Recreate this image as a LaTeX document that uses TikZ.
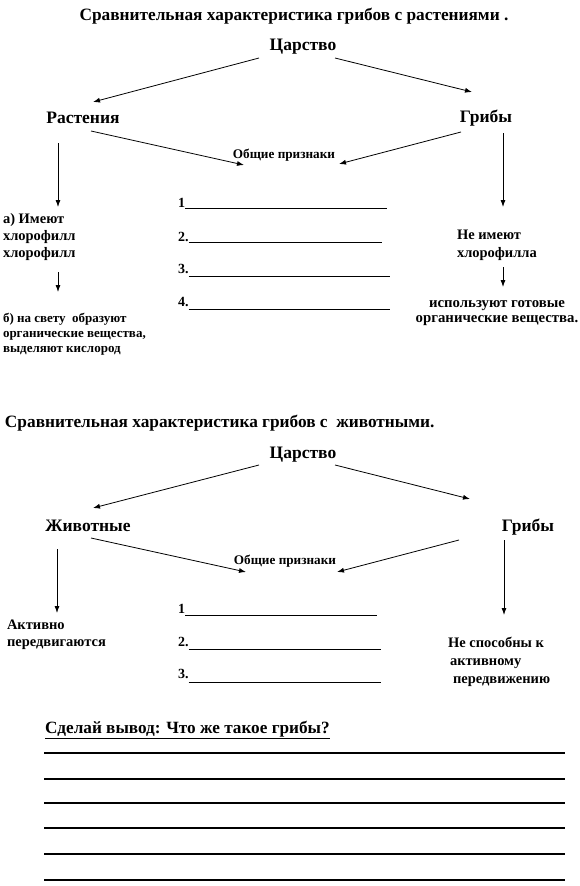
\documentclass[tikz,border=0pt]{standalone}
\usepackage{fontspec}
\setmainfont{Liberation Serif}
\usetikzlibrary{arrows.meta,calc}
\begin{document}
\begin{tikzpicture}[x=1pt,y=-1pt,
  every node/.style={inner sep=0pt, outer sep=0pt},
  ttl/.style={font=\bfseries\fontsize{17.3}{20}\selectfont, anchor=base},
  hd/.style={font=\bfseries\fontsize{17.5}{20}\selectfont},
  com/.style={font=\bfseries\fontsize{13.2}{15}\selectfont},
  txt/.style={font=\bfseries\fontsize{14.5}{17}\selectfont, align=left, anchor=base west},
  num/.style={font=\bfseries\fontsize{14}{16}\selectfont, anchor=base west},
  arr/.style={draw, line width=0.8pt, -{Latex[length=7pt,width=5pt]}},
  blank/.style={line width=0.9pt},
  rulel/.style={line width=1.3pt}
]
\useasboundingbox (0,0) rectangle (580,886);

% ---------- Section 1 ----------
\node[ttl] (t1) at (294,20) {Сравнительная характеристика грибов с растениями .};
\node[hd] (tsar1) at (303,47) {Царство};
\node[hd] (rast) at (83,118) {Растения};
\node[hd] (grib1) at (486,118) {Грибы};
\node[com] (obsh1) at (284,155) {Общие признаки};
\node[txt] (a1) at (3,257) {а) Имеют\\хлорофилл\\хлорофилл};
\node[txt, font=\bfseries\fontsize{13}{15}\selectfont] (b1) at (3,352) {б) на свету\ \ образуют\\органические вещества,\\выделяют кислород};
\node[txt, font=\bfseries\fontsize{14.5}{18}\selectfont] (ne1) at (457,257) {Не имеют\\хлорофилла};
\node[txt, font=\bfseries\fontsize{14.8}{15}\selectfont, align=center, anchor=base] (isp) at (497,322) {используют готовые\\органические вещества.};

\node[num] (n11) at (178,207) {1};
\node[num] (n12) at (178,241) {2.};
\node[num] (n13) at (178,273) {3.};
\node[num] (n14) at (178,306) {4.};
\draw[blank] (n11.base east) ++(0,1) -- (387,208);
\draw[blank] (n12.base east) ++(0,1) -- (382,242);
\draw[blank] (n13.base east) ++(0,3) -- (390,276);
\draw[blank] (n14.base east) ++(0,3) -- (390,309);

\draw[arr] ([shift={(-44,11)}]tsar1.center) -- ([shift={(10,-16)}]rast.center);
\draw[arr] ([shift={(32,11)}]tsar1.center) -- ([shift={(-14,-26)}]grib1.center);
\draw[arr] ([shift={(8,13)}]rast.center) -- ([shift={(-40,10)}]obsh1.center);
\draw[arr] ([shift={(-25,14)}]grib1.center) -- ([shift={(55,9)}]obsh1.center);
\draw[arr] ([shift={(-25,25)}]rast.center) -- ([shift={(55,-50)}]a1.base west);
\draw[arr] ([shift={(17,15)}]grib1.center) -- ([shift={(46,-50)}]ne1.base west);
\draw[arr] ([shift={(55,15)}]a1.base west) -- ([shift={(55,-60)}]b1.base west);
\draw[arr] ([shift={(46,10)}]ne1.base west) -- ([shift={(6,-35)}]isp.base);

% ---------- Section 2 ----------
\node[ttl, anchor=base west] (t2) at (5,427) {Сравнительная характеристика грибов с\ \ животными.};
\node[hd] (tsar2) at (303,455) {Царство};
\node[hd] (zhiv) at (88,526) {Животные};
\node[hd] (grib2) at (528,527) {Грибы};
\node[com] (obsh2) at (285,561) {Общие признаки};
\node[txt] (akt) at (7,646) {Активно\\передвигаются};
\node[txt, font=\bfseries\fontsize{14.5}{18}\selectfont] (nesp) at (448,683) {Не способны к\\\hspace*{2pt}активному\\\hspace*{5pt}передвижению};

\node[num] (n21) at (178,613) {1};
\node[num] (n22) at (178,646) {2.};
\node[num] (n23) at (178,678) {3.};
\draw[blank] (n21.base east) ++(0,2) -- (377,615);
\draw[blank] (n22.base east) ++(0,3) -- (381,649);
\draw[blank] (n23.base east) ++(0,4) -- (381,682);

\draw[arr] ([shift={(-44,10)}]tsar2.center) -- ([shift={(5,-18)}]zhiv.center);
\draw[arr] ([shift={(32,10)}]tsar2.center) -- ([shift={(-58,-28)}]grib2.center);
\draw[arr] ([shift={(3,12)}]zhiv.center) -- ([shift={(-39,11)}]obsh2.center);
\draw[arr] ([shift={(-69,13)}]grib2.center) -- ([shift={(52,11)}]obsh2.center);
\draw[arr] ([shift={(-31,23)}]zhiv.center) -- ([shift={(50,-33)}]akt.base west);
\draw[arr] ([shift={(-24,13)}]grib2.center) -- ([shift={(56,-68)}]nesp.base west);

% ---------- Conclusion ----------
\node[txt, font=\bfseries\fontsize{17.2}{20}\selectfont] (vyv) at (45,733) {\underline{Сделай вывод: Что же такое грибы?}};
\foreach \yy in {753,779,803,828,854,880} \draw[rulel] (44,\yy) -- (565,\yy);
\end{tikzpicture}
\end{document}
